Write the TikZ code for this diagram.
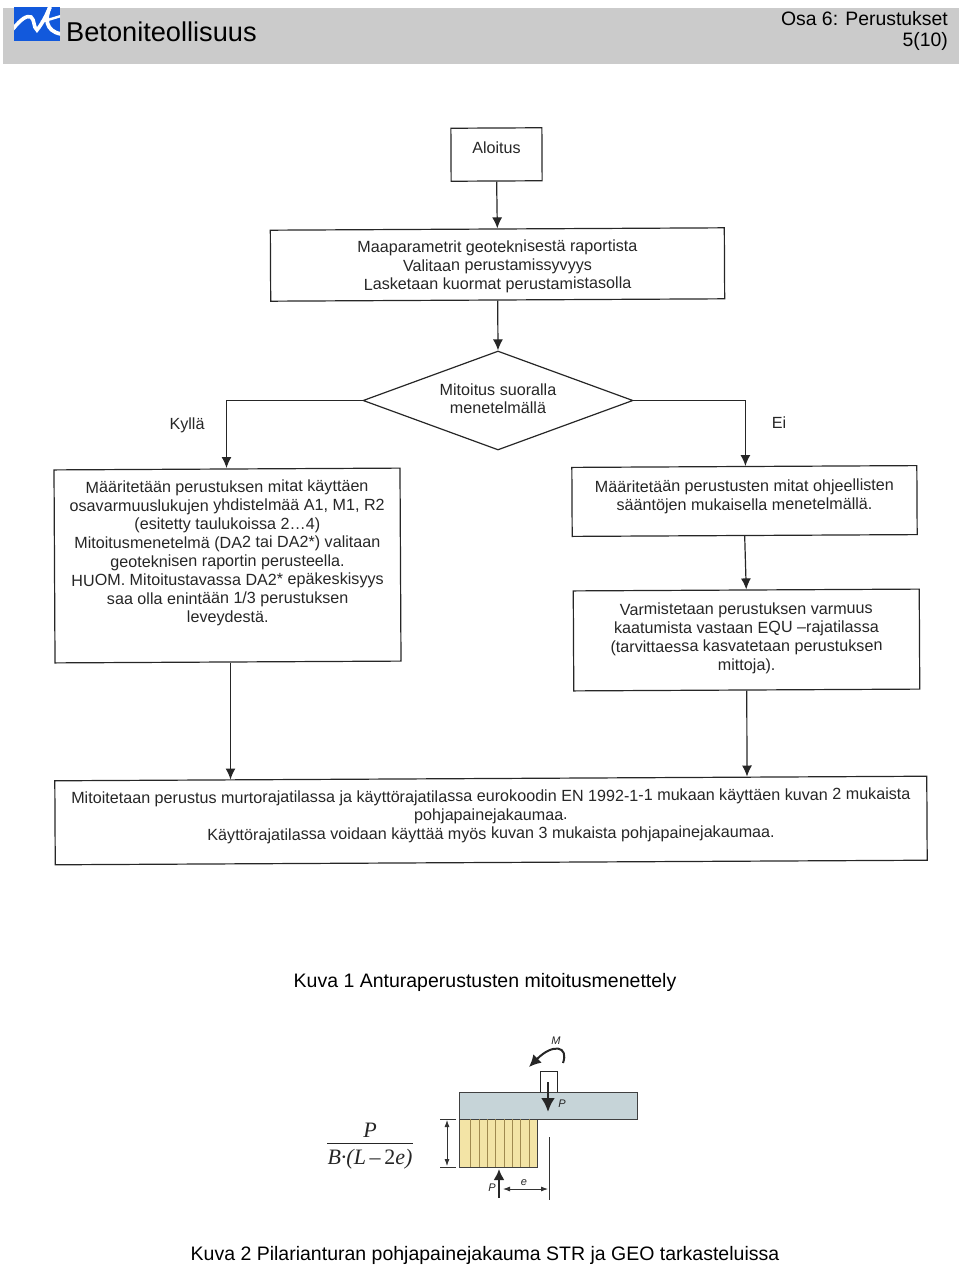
\documentclass[tikz,border=0pt]{standalone}
\usepackage{fontspec}
\setmainfont{Liberation Sans}
\newfontfamily\serifpart{Liberation Serif}
\usetikzlibrary{shapes.geometric,arrows.meta}
\definecolor{headgray}{HTML}{CBCBCB}
\definecolor{logoblue}{HTML}{1259DC}
\definecolor{slabblue}{HTML}{C6D4D8}
\definecolor{padyellow}{HTML}{F3E4A6}
\definecolor{padline}{HTML}{A08A50}
\definecolor{inkgray}{HTML}{262626}
\tikzset{
  flowbox/.style={draw=inkgray, line width=1.2pt, rotate=0.3, align=center, text=inkgray,
    font=\fontsize{16.15}{18.6}\selectfont, inner sep=0pt},
  flowarrow/.style={draw=inkgray, line width=1.2pt, -{Latex[length=11pt,width=10pt]}},
  flowlabel/.style={text=inkgray, font=\fontsize{16.15}{18.6}\selectfont, inner sep=0pt},
  caption/.style={font=\fontsize{19.5}{24}\selectfont, inner sep=0pt},
  smalltag/.style={font=\fontsize{11}{12}\selectfont\itshape, text=inkgray, inner sep=0pt},
  fracpart/.style={font=\fontsize{22}{26}\serifpart\itshape, text=inkgray, inner sep=0pt},
  dimarrow/.style={draw=black!80, line width=0.8pt, {Latex[length=7pt,width=5pt]}-{Latex[length=7pt,width=5pt]}},
  thinline/.style={draw=black!80, line width=0.8pt}
}
\begin{document}
\begin{tikzpicture}[x=1pt,y=-1pt]
\useasboundingbox (0,0) rectangle (960,1268);

%header
\fill[headgray] (3,8) rectangle (959,64);
\fill[logoblue] (14,7) rectangle (60,41);
\begin{scope} %logo strokes stay in the square
\clip (14,7) rectangle (60,41);
\draw[white, line width=3.6pt] (13,29) .. controls (21,19) and (27,15) .. (31,17)
  .. controls (35,20) and (33,27) .. (37,30) .. controls (42,24) and (46,16) .. (50,7);
\draw[white, line width=3.8pt] (50,7) .. controls (45,18) and (45,31) .. (61,34);
\draw[white, line width=2.4pt] (41,22) -- (61,16);
\end{scope}
\node[anchor=west, inner sep=0pt, font=\fontsize{27.2}{30}\selectfont] (company) at (66,32) {Betoniteollisuus};
\node[anchor=east, inner sep=0pt, font=\fontsize{19.4}{24}\selectfont] (chapter) at (948,18.5) {Osa 6: Perustukset};
\node[anchor=east, inner sep=0pt, font=\fontsize{19.4}{24}\selectfont] (pageno) at (948,41.5) {5(10)};

%flow chart
\node[flowbox, minimum width=91pt, minimum height=53pt, text depth=14pt] (start) at (496.5,154.5) {Aloitus};
\node[flowbox, minimum width=454pt, minimum height=71pt, text height=53pt] (params) at (497.5,264.5)
  {Maaparametrit geoteknisestä raportista\\Valitaan perustamissyvyys\\Lasketaan kuormat perustamistasolla};
\node[flowbox, shape=diamond, aspect=2.73, minimum width=270pt, minimum height=99pt, rotate=-0.3, text depth=4pt] (choice) at (498,400.5)
  {Mitoitus suoralla\\menetelmällä};
\node[flowbox, minimum width=346pt, minimum height=193pt, text depth=28pt] (direct) at (227.5,565.5)
  {Määritetään perustuksen mitat käyttäen\\osavarmuuslukujen yhdistelmää A1, M1, R2\\(esitetty taulukoissa 2…4)\\Mitoitusmenetelmä (DA2 tai DA2*) valitaan\\geoteknisen raportin perusteella.\\HUOM. Mitoitustavassa DA2* epäkeskisyys\\saa olla enintään 1/3 perustuksen\\leveydestä.};
\node[flowbox, minimum width=345pt, minimum height=69pt, text depth=12pt] (rules) at (744.5,501)
  {Määritetään perustusten mitat ohjeellisten\\sääntöjen mukaisella menetelmällä.};
\node[flowbox, minimum width=346pt, minimum height=100pt, text depth=7pt] (check) at (746.5,640)
  {Varmistetaan perustuksen varmuus\\kaatumista vastaan EQU –rajatilassa\\(tarvittaessa kasvatetaan perustuksen\\mittoja).};
\node[flowbox, minimum width=872pt, minimum height=84pt, text depth=12pt] (final) at (491,820.5)
  {Mitoitetaan perustus murtorajatilassa ja käyttörajatilassa eurokoodin EN 1992-1-1 mukaan käyttäen kuvan 2 mukaista\\pohjapainejakaumaa.\\Käyttörajatilassa voidaan käyttää myös kuvan 3 mukaista pohjapainejakaumaa.};
\node[flowlabel] (yes) at (187,425) {Kyllä};
\node[flowlabel] (no) at (779,423) {Ei};

\coordinate (directin) at (226.5,468);
\coordinate (rulesin) at (745.4,466);
\coordinate (finalleft) at (230.5,779.5);
\coordinate (finalright) at (747,776.5);
\draw[flowarrow] (start.south) -- (params.north);
\draw[flowarrow] (params.south) -- (choice.north);
\draw[flowarrow] (choice.west) -| (directin);
\draw[flowarrow] (choice.east) -| (rulesin);
\draw[flowarrow] (rules.south) -- (check.north);
\draw[flowarrow] (direct.south -| finalleft) -- (finalleft);
\draw[flowarrow] (check.south) -- (finalright);

\node[caption] (firstcaption) at (485,982) {Kuva 1 Anturaperustusten mitoitusmenettely};

%footing sketch
\draw[draw=inkgray, line width=0.8pt] (540,1092) -- (540,1071) -- (557,1071) -- (557,1092);
\draw[draw=black!75, line width=0.8pt, fill=slabblue] (459,1092) rectangle (637,1119);
\draw[draw=black!75, line width=0.8pt, fill=padyellow] (459,1119) rectangle (537,1167);
\foreach \xpos in {470.7,479,487,495.7,504,512.3,520.7,529}
  \draw[padline, line width=0.7pt] (\xpos,1119) -- (\xpos,1167);
\coordinate (loadtop) at (548,1082);
\coordinate (loadend) at (548,1112);
\draw[draw=black!85, line width=2.8pt, -{Latex[length=14pt,width=14pt]}] (loadtop) -- (loadend);
\node[smalltag] (loadtag) at (562,1104) {P};
\coordinate (momentstart) at (563,1063);
\coordinate (momentend) at (529,1067);
\draw[draw=black!85, line width=2pt, -{Latex[length=12pt,width=12pt]}] (momentstart)
  .. controls (569,1046) and (553,1043) .. (momentend);
\node[smalltag] (momenttag) at (556,1041) {M};
\coordinate (tickone) at (440,1119);
\coordinate (ticktwo) at (440,1167);
\draw[thinline] (tickone) -- (456,1119);
\draw[thinline] (ticktwo) -- (456,1167);
\draw[dimarrow] (447,1120) -- (447,1166);
\coordinate (reactfoot) at (499,1198);
\coordinate (reacthead) at (499,1169);
\draw[draw=black!85, line width=2pt, -{Latex[length=11pt,width=11pt]}] (reactfoot) -- (reacthead);
\node[smalltag] (reacttag) at (492,1188) {P};
\coordinate (axisline) at (549,1137);
\draw[thinline] (axisline) -- (549,1200);
\draw[dimarrow] (503,1189) -- (548,1189);
\node[smalltag] (offsettag) at (524,1183) {e};
\node[fracpart] (numer) at (370,1130) {P};
\node[fracpart] (denom) at (370,1159) {B·({\itshape L}\,–\,{\upshape 2}e)};
\coordinate (fracleft) at (327,1143);
\coordinate (fracright) at (413,1143);
\draw[draw=inkgray, line width=0.8pt] (fracleft) -- (fracright);

\node[caption] (secondcaption) at (485,1255) {Kuva 2 Pilarianturan pohjapainejakauma STR ja GEO tarkasteluissa};
\end{tikzpicture}
\end{document}
